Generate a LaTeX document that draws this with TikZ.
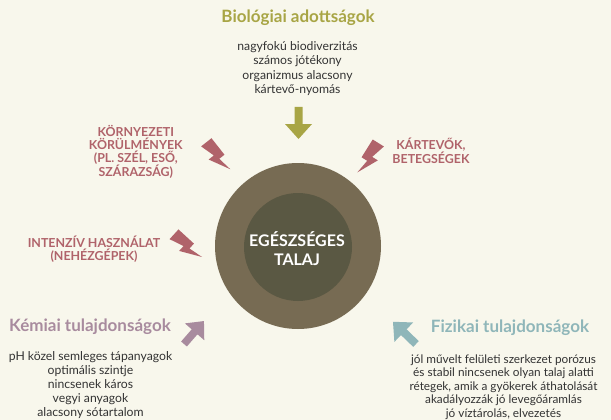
\documentclass[tikz,border=0pt]{standalone}
\usepackage{fontspec}
\setmainfont{Lato}
\definecolor{bgc}{HTML}{F8F7EC}
\definecolor{olive}{HTML}{A8A545}
\definecolor{redt}{HTML}{B0636A}
\definecolor{mauve}{HTML}{A88B9E}
\definecolor{teal}{HTML}{8FB6B9}
\definecolor{bodyc}{HTML}{333333}
\definecolor{outerc}{HTML}{776B53}
\definecolor{innerc}{HTML}{5A5843}
\tikzset{
  title/.style={font=\bfseries\fontsize{17}{20}\selectfont, inner sep=0pt},
  body/.style={font=\fontsize{12.2}{14.2}\selectfont, text=bodyc, align=center, inner sep=0pt},
  warn/.style={font=\bfseries\fontsize{12.4}{12.7}\selectfont, text=redt, align=center, inner sep=0pt},
  bigarrow/.pic={\fill (0,-4) -- (17,-4) -- (17,-13.5) -- (32,0) -- (17,13.5) -- (17,4) -- (0,4) -- cycle;},
  bolt/.pic={\fill (0,-6.6) -- (0,6.6) -- (15,2.2) -- (15,8.8) -- (36,-2.2) -- (21,0) -- (21,-6.6) -- cycle;}
}
\begin{document}
\begin{tikzpicture}[x=1pt,y=-1pt]
\useasboundingbox (0,0) rectangle (611,420);
\fill[bgc] (0,0) rectangle (611,420);
% central circles
\node[circle, fill=outerc, minimum size=166pt, inner sep=0pt] (outer) at (298,246) {};
\node[circle, fill=innerc, minimum size=108pt, inner sep=0pt] (inner) at (298,247) {};
\node[font=\bfseries\fontsize{16}{19}\selectfont, text=white, align=center, inner sep=0pt] (core) at (297,248.5) {EGÉSZSÉGES\\TALAJ};
% biological
\node[title, text=olive] (bio) at (298,18) {Biológiai adottságok};
\node[body] (biotext) at (297.5,68.5) {nagyfokú biodiverzitás\\számos jótékony\\organizmus alacsony\\kártevő-nyomás};
\pic[olive, rotate=-90] (bioarrow) at (298.5,107) {bigarrow};
% chemical
\node[title, text=mauve] (chem) at (90,327) {Kémiai tulajdonságok};
\node[body] (chemtext) at (90.5,385) {pH közel semleges tápanyagok\\optimális szintje\\nincsenek káros\\vegyi anyagok\\alacsony sótartalom};
\pic[mauve, rotate=49, scale=0.95] (chemarrow) at (184,344) {bigarrow};
% physical
\node[title, text=teal] (phys) at (510,328) {Fizikai tulajdonságok};
\node[body, font=\fontsize{11.8}{13.6}\selectfont] (phystext) at (503.5,387) {jól művelt felületi szerkezet porózus\\és stabil nincsenek olyan talaj alatti\\rétegek, amik a gyökerek áthatolását\\akadályozzák jó levegőáramlás\\jó víztárolás, elvezetés};
\pic[teal, rotate=136] (physarrow) at (416,344) {bigarrow};
% threats
\node[warn] (env) at (135.8,152) {KÖRNYEZETI\\KÖRÜLMÉNYEK\\(PL. SZÉL, ESŐ,\\SZÁRAZSÁG)};
\node[warn] (pest) at (431,150.5) {KÁRTEVŐK,\\BETEGSÉGEK};
\node[warn] (use) at (94,249) {INTENZÍV HASZNÁLAT\\(NEHÉZGÉPEK)};
\pic[redt, rotate=-51.8] (envbolt) at (206.3,142.3) {bolt};
\pic[redt, rotate=-122, yscale=-1] (pestbolt) at (378.3,143) {bolt};
\pic[redt, rotate=-42.5] (usebolt) at (174,234.3) {bolt};
\end{tikzpicture}
\end{document}
